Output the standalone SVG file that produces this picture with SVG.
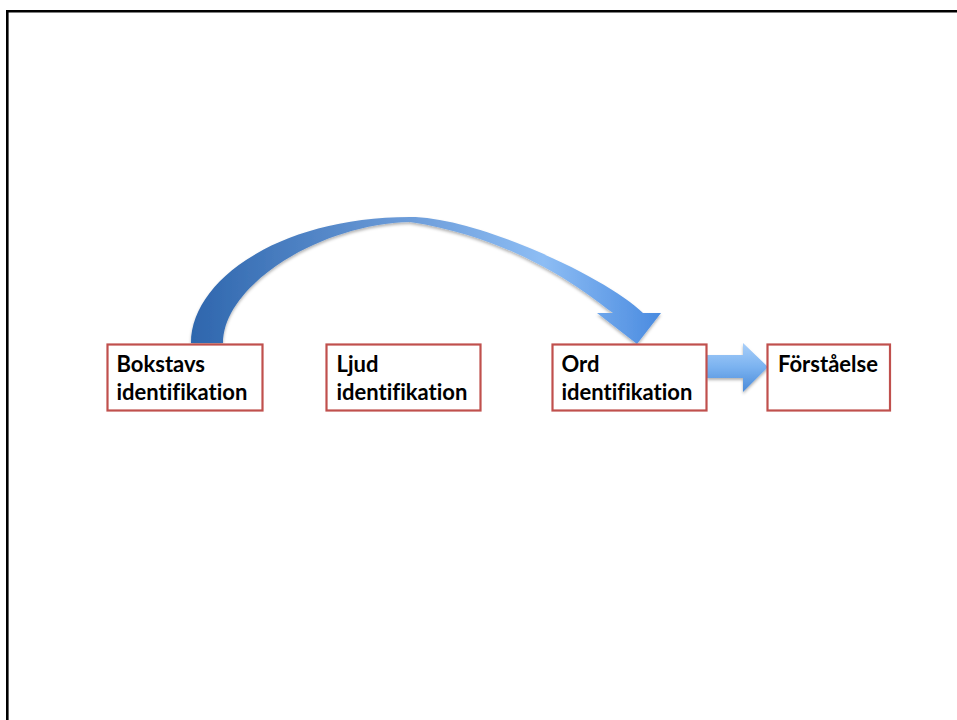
<svg xmlns="http://www.w3.org/2000/svg" width="957" height="720" viewBox="0 0 957 720">
<style>
.box{fill:#fff;stroke:#c0504d;stroke-width:2.2}
.t{font-family:Lato,"Liberation Sans",sans-serif;font-weight:bold;font-size:22px;fill:#000;font-variant-ligatures:none}
.frame{fill:none;stroke:#000;stroke-width:2.6}
</style>
<defs>
<linearGradient id="gCurve" x1="191" y1="0" x2="661" y2="0" gradientUnits="userSpaceOnUse">
<stop offset="0" stop-color="#2e66ad"/>
<stop offset="0.45" stop-color="#6b9bd8"/>
<stop offset="0.75" stop-color="#8dbdf4"/>
<stop offset="1" stop-color="#4a8be0"/>
</linearGradient>
<linearGradient id="gBlock" x1="0" y1="343" x2="0" y2="392" gradientUnits="userSpaceOnUse">
<stop offset="0" stop-color="#a9cff9"/>
<stop offset="0.5" stop-color="#7ab2f0"/>
<stop offset="1" stop-color="#4a8ad8"/>
</linearGradient>
<filter id="sh" x="-10%" y="-10%" width="120%" height="130%">
<feDropShadow dx="0" dy="2" stdDeviation="1.5" flood-color="#000" flood-opacity="0.3"/>
</filter>
</defs>
<path class="frame" d="M7.3,1000 L7.3,11.3 L1000,11.3"/>
<g id="connectors">
<path id="curved-arrow" filter="url(#sh)" fill="url(#gCurve)" d="M191,343 C191,280 280,217 410,217 C480,217 610,280 643,313 L661,313 L637,344 L597,313 L613,313 C598,303 528,240 410,222 C320,224 223,285 223,343 Z"/>
<path id="block-arrow" filter="url(#sh)" fill="url(#gBlock)" d="M707,355 L743,355 L743,343 L768,367 L743,392 L743,378 L707,378 Z"/>
</g>
<g id="n1">
<rect class="box" x="107.5" y="344.5" width="155" height="66"/>
<text class="t" x="116.5" y="371.5">Bokstavs</text>
<text class="t" x="116.5" y="400">identifikation</text>
</g>
<g id="n2">
<rect class="box" x="326.5" y="344.5" width="154" height="66"/>
<text class="t" x="336.5" y="371.5">Ljud</text>
<text class="t" x="336.5" y="400">identifikation</text>
</g>
<g id="n3">
<rect class="box" x="552.5" y="344.5" width="154" height="66"/>
<text class="t" x="561.5" y="371.5">Ord</text>
<text class="t" x="561.5" y="400">identifikation</text>
</g>
<g id="n4">
<rect class="box" x="767.5" y="344.5" width="122.5" height="66"/>
<text class="t" x="778" y="371.5">Förståelse</text>
</g>
</svg>
